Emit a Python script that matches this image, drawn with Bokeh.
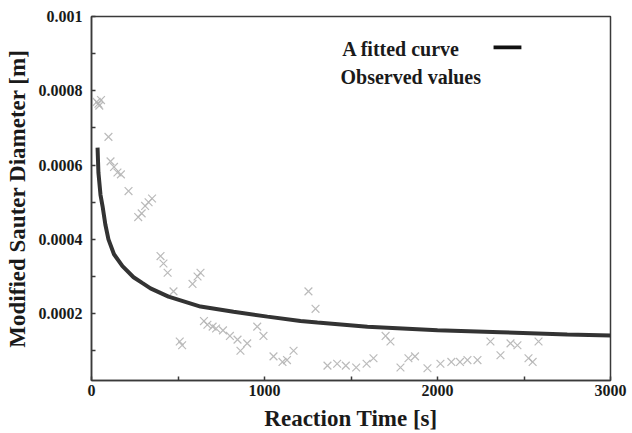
from bokeh.plotting import figure
from bokeh.models import FixedTicker, CustomJSTickFormatter, Label, BoxAnnotation
from bokeh.embed import file_html
from bokeh.resources import INLINE

# ---- data ----
obs_time = [30, 40, 45, 55, 98, 110, 130, 150, 170, 214, 270, 290, 310, 330, 350,
            399, 416, 440, 474, 584, 613, 630, 510, 524, 650, 670, 700, 720, 760,
            800, 844, 861, 900, 958, 994, 1052, 1104, 1130, 1168, 1254, 1295,
            1364, 1420, 1470, 1530, 1590, 1630, 1700, 1728, 1786, 1832, 1870,
            1942, 2017, 2080, 2130, 2173, 2231, 2306, 2364, 2422, 2462, 2526,
            2550, 2584]
obs_diam = [0.00077, 0.000765, 0.00076, 0.000775, 0.000676, 0.00061, 0.000595,
            0.00058, 0.000575, 0.00053, 0.00046, 0.00047, 0.00049, 0.0005, 0.00051,
            0.000355, 0.000335, 0.00031, 0.00026, 0.00028, 0.0003, 0.00031,
            0.000125, 0.000115, 0.00018, 0.00017, 0.000165, 0.00016, 0.000155,
            0.00014, 0.00013, 0.0001, 0.00012, 0.000165, 0.00014, 0.000085,
            0.00007, 0.000075, 0.0001, 0.00026, 0.000213,
            0.00006, 0.000065, 0.00006, 0.000055, 0.000065, 0.00008, 0.00014,
            0.000125, 0.000055, 0.00008, 0.000085,
            0.000053, 0.000065, 0.00007, 0.00007, 0.000075, 0.000075, 0.000125,
            0.000088, 0.00012, 0.000115, 0.00008, 0.00007, 0.000125]

fit_time = [35, 40, 52, 64, 80, 98, 130, 179, 243, 295, 341, 445, 630, 821,
            1017, 1208, 1306, 1595, 2000, 2364, 2750, 3000]
fit_diam = [0.000647, 0.00058, 0.00052, 0.000489, 0.00044, 0.0004, 0.00036,
            0.000328, 0.000298, 0.000282, 0.000268, 0.000246, 0.000219, 0.000205,
            0.000192, 0.00018, 0.000176, 0.000165, 0.000155, 0.00015, 0.000144,
            0.000141]

x_ticks = [0, 1000, 2000, 3000]
x_minor = [500, 1500, 2500]
y_ticks = [0.0002, 0.0004, 0.0006, 0.0008, 0.001]
y_minor = [0.0001, 0.0003, 0.0005, 0.0007, 0.0009]

legend_fit = "A fitted curve"
legend_obs = "Observed values"
x_title = "Reaction Time [s]"
y_title = "Modified Sauter Diameter [m]"

FONT = "Liberation Serif"
AX = "#3a3a3a"

p = figure(width=632, height=433, output_backend="svg", toolbar_location=None,
           x_range=(0, 3000), y_range=(0.00002, 0.001),
           min_border_left=91, min_border_right=22, min_border_top=16,
           min_border_bottom=51)
p.background_fill_color = "white"
p.border_fill_color = "white"
p.grid.visible = False
p.outline_line_color = AX
p.outline_line_width = 1.5

p.scatter(obs_time, obs_diam, marker="x", size=11, line_color="#b4b4b4",
          line_width=1.2, line_alpha=0.9)
p.line(fit_time, fit_diam, line_color="#333333", line_width=4)

for ax in (p.xaxis[0], p.yaxis[0]):
    ax.axis_line_color = AX
    ax.axis_line_width = 1.5
    ax.major_tick_line_color = AX
    ax.minor_tick_line_color = AX
    ax.major_tick_line_width = 1.5
    ax.minor_tick_line_width = 1.5
    ax.major_tick_in = 4
    ax.major_tick_out = 0
    ax.minor_tick_in = 4
    ax.minor_tick_out = 0
    ax.major_label_text_font = FONT
    ax.major_label_text_font_style = "bold"
    ax.major_label_text_font_size = "16px"
    ax.major_label_text_color = "#1a1a1a"
    ax.axis_label_text_font = FONT
    ax.axis_label_text_font_style = "bold"
    ax.axis_label_text_font_size = "23px"
    ax.axis_label_text_color = "#1a1a1a"

p.xaxis.ticker = FixedTicker(ticks=x_ticks, minor_ticks=x_minor)
p.yaxis.ticker = FixedTicker(ticks=y_ticks, minor_ticks=y_minor)
p.yaxis.formatter = CustomJSTickFormatter(code="return tick.toPrecision(1);")
p.xaxis.axis_label = x_title
p.yaxis.axis_label = y_title
p.xaxis.major_label_standoff = 4
p.xaxis.axis_label_standoff = 7
p.yaxis.major_label_standoff = 9
p.yaxis.axis_label_standoff = 6

# legend (text left, sample right)
p.add_layout(Label(x=1450, y=0.000912, text=legend_fit, text_font=FONT,
                   text_font_style="bold", text_font_size="20px",
                   text_baseline="middle", text_color="#1a1a1a"))
p.add_layout(Label(x=1439, y=0.000837, text=legend_obs, text_font=FONT,
                   text_font_style="bold", text_font_size="20px",
                   text_baseline="middle", text_color="#1a1a1a"))
p.add_layout(BoxAnnotation(left=2324, right=2485, bottom=0.000912, top=0.000922,
                           fill_color="#111111", fill_alpha=1.0, line_alpha=0))

open("out.html", "w").write(file_html(p, INLINE))
